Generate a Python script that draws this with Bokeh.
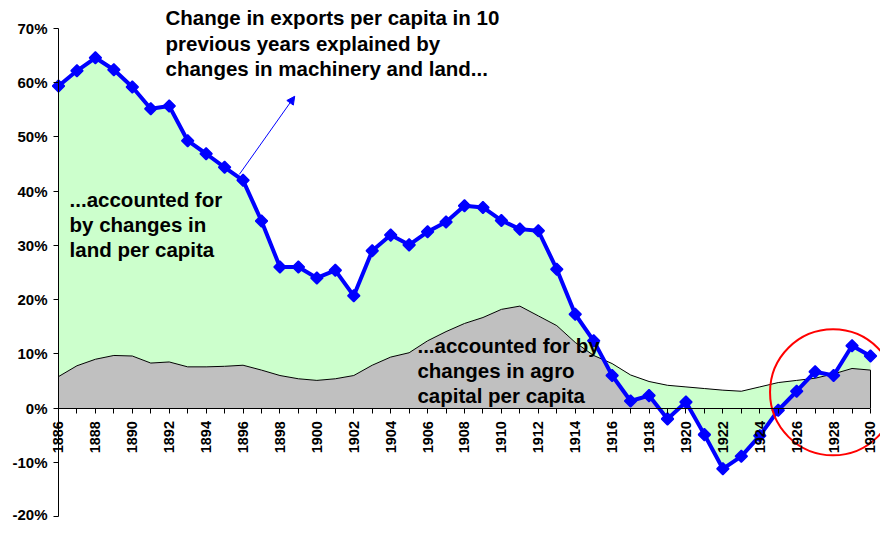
import math
from bokeh.plotting import figure
from bokeh.models import (LinearAxis, FixedTicker, PrintfTickFormatter, Label,
                          Arrow, NormalHead, ColumnDataSource)
from bokeh.embed import file_html
from bokeh.resources import INLINE

# ---- data (percent) ----
years = list(range(1886, 1931))
exports_change = [59.4, 62.2, 64.6, 62.4, 59.2, 55.2, 55.7, 49.3, 46.9, 44.4,
                  42.0, 34.5, 26.0, 26.0, 24.0, 25.4, 20.7, 29.0, 31.9, 30.1,
                  32.5, 34.3, 37.3, 37.0, 34.6, 33.0, 32.7, 25.6, 17.3, 12.4,
                  6.0, 1.3, 2.3, -2.0, 1.1, -4.9, -11.2, -8.9, -5.1, -0.4,
                  3.1, 6.7, 6.0, 11.5, 9.6]
agro_capital = [5.8, 7.8, 9.0, 9.7, 9.6, 8.3, 8.5, 7.6, 7.6, 7.7,
                7.9, 7.0, 6.0, 5.4, 5.1, 5.4, 6.0, 7.9, 9.4, 10.2,
                12.4, 14.1, 15.6, 16.7, 18.2, 18.8, 17.0, 15.2, 12.1, 9.7,
                8.2, 6.1, 4.9, 4.2, 3.9, 3.6, 3.3, 3.1, 3.9, 4.7,
                5.1, 5.5, 6.3, 7.3, 7.0]
y_ticks = [-20, -10, 0, 10, 20, 30, 40, 50, 60, 70]
x_label_years = [y for y in years if y % 2 == 0]
x_minor_years = [y for y in years if y % 2 == 1]

title_lines = ["Change in exports per capita in 10",
               "previous years explained by",
               "changes in machinery and land..."]
land_lines = ["...accounted for", "by changes in", "land per capita"]
agro_lines = ["...accounted for by", "changes in agro", "capital per capita"]

FONT = "Liberation Sans"
BLUE = "#0000FF"

W, H = 880, 522
X0, X1 = 58, 870      # screen x of first / last year
Y70, YM20 = 28, 516   # screen y of 70% / -20%
ppy = (X1 - X0) / (years[-1] - years[0])
ppp = (YM20 - Y70) / 90.0
x_range = (years[0] - X0 / ppy, years[-1] + (W - X1) / ppy)
y_range = (-20 - (H - YM20) / ppp, 70 + Y70 / ppp)

src = ColumnDataSource(dict(year=years, total=exports_change, agro=agro_capital,
                            zero=[0] * len(years)))

p = figure(width=W, height=H, x_range=x_range, y_range=y_range,
           output_backend="svg", toolbar_location=None,
           x_axis_location=None, y_axis_location=None,
           min_border=0, min_border_left=0, min_border_right=0,
           min_border_top=0, min_border_bottom=0)
p.outline_line_color = None
p.xgrid.visible = False
p.ygrid.visible = False
p.background_fill_color = "white"
p.border_fill_color = "white"

# areas
p.varea(x="year", y1="zero", y2="agro", source=src, fill_color="#C0C0C0")
p.varea(x="year", y1="agro", y2="total", source=src, fill_color="#CCFFCC")
p.line(x="year", y="agro", source=src, line_color="black", line_width=1)
p.segment(x0=[years[-1]], y0=[0], x1=[years[-1]], y1=[agro_capital[-1]],
          line_color="black", line_width=1)

# main series
p.line(x="year", y="total", source=src, line_color=BLUE, line_width=4)
p.scatter(x="year", y="total", source=src, marker="square", angle=math.pi / 4,
          size=8.5, fill_color=BLUE, line_color=BLUE, line_width=1.5)

# red circle highlight
p.ellipse(x=[1927.97], y=[2.9], width=126, height=126, width_units="screen",
          height_units="screen", fill_color=None, line_color="#FF0000", line_width=2)

# arrow
p.add_layout(Arrow(x_start=1895.8, y_start=43.1, x_end=1898.8, y_end=57.5,
                   line_color=BLUE, line_width=1,
                   end=NormalHead(size=8, fill_color=BLUE, line_color=BLUE)))

# y axis at first year
ya = LinearAxis(fixed_location=years[0], bounds=(-20, 70))
ya.ticker = FixedTicker(ticks=y_ticks, minor_ticks=[])
ya.formatter = PrintfTickFormatter(format="%d%%")
ya.major_label_text_font = FONT
ya.major_label_text_font_style = "bold"
ya.major_label_text_font_size = "15px"
ya.major_label_text_color = "black"
ya.major_tick_in = 0
ya.major_tick_out = 5
ya.major_label_standoff = 6
ya.axis_line_color = "black"
p.add_layout(ya, "left")

# x axis at y = 0
xa = LinearAxis(fixed_location=0, bounds=(years[0], years[-1]))
xa.ticker = FixedTicker(ticks=x_label_years, minor_ticks=x_minor_years)
xa.major_label_orientation = math.pi / 2
xa.major_label_text_font = FONT
xa.major_label_text_font_style = "bold"
xa.major_label_text_font_size = "14.5px"
xa.major_label_text_color = "black"
xa.major_tick_in = 0
xa.major_tick_out = 5
xa.minor_tick_in = 0
xa.minor_tick_out = 5
xa.major_label_standoff = 8
xa.axis_line_color = "black"
p.add_layout(xa, "below")

def add_lines(lines, x, ys):
    for txt, yy in zip(lines, ys):
        p.add_layout(Label(x=x, y=yy, text=txt, text_font=FONT,
                           text_font_style="bold", text_font_size="20.5px",
                           text_color="black", text_baseline="middle",
                           text_align="left"))

add_lines(title_lines, 1891.8, [72.0, 67.3, 62.6])
add_lines(land_lines, 1886.6, [38.5, 33.9, 29.2])
add_lines(agro_lines, 1905.45, [11.5, 6.9, 2.3])

open("out.html", "w").write(file_html(p, INLINE))
